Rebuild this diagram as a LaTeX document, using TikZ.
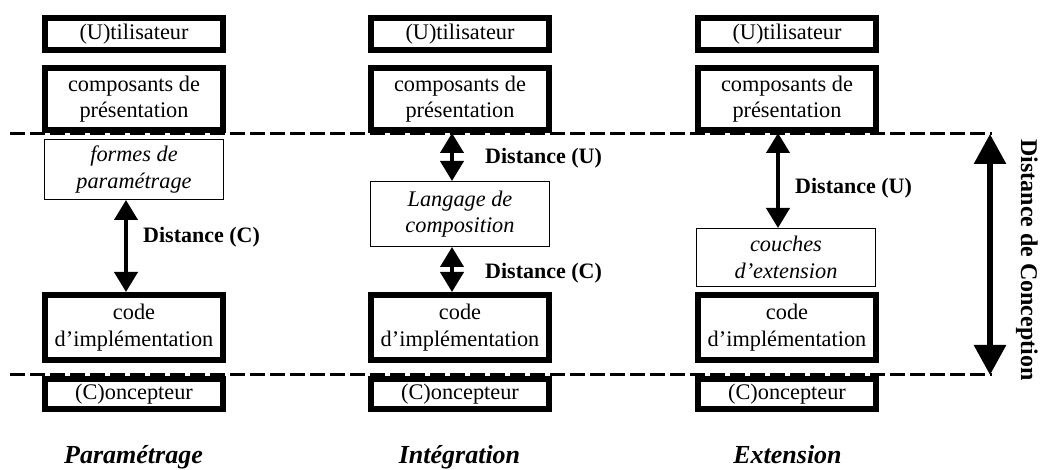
\documentclass[tikz,border=0pt]{standalone}
\usepackage{fontspec}
\setmainfont{Liberation Serif}
\usetikzlibrary{arrows.meta}
\tikzset{
  thickbox/.style={draw, fill=white, line width=6pt, minimum width=178pt, inner sep=0pt, align=center,
    font=\fontsize{22.3}{26.5}\selectfont},
  thinbox/.style={draw, fill=white, line width=1.3pt, minimum width=178.7pt, inner sep=0pt, align=center,
    font=\fontsize{22.3}{26.5}\selectfont\itshape},
  sepline/.style={line width=3pt, dash pattern=on 15pt off 5pt},
  smallarrow/.style={line width=4pt, {Triangle[width=23pt,length=20pt]}-{Triangle[width=23pt,length=20pt]}},
  bigarrow/.style={line width=6pt, {Triangle[width=31pt,length=30pt]}-{Triangle[width=31pt,length=30pt]}},
  distlabel/.style={anchor=west, inner sep=0pt, font=\fontsize{22}{26}\selectfont\bfseries},
  titlelabel/.style={anchor=base, inner sep=0pt, font=\fontsize{26}{30}\selectfont\bfseries\itshape}
}
\begin{document}
\begin{tikzpicture}[x=1pt,y=-1pt]
\useasboundingbox (0,0) rectangle (1042,470);
% separation lines
\coordinate (sTL) at (10,134);
\coordinate (sTR) at (992,134);
\coordinate (sBL) at (10,375);
\coordinate (sBR) at (992,375);
\draw[sepline] (sTL) -- (sTR);
\draw[sepline] (sBL) -- (sBR);

% Left column : Parametrage
\node[thickbox, minimum height=32pt] (uL) at (134,34) {(U)tilisateur};
\node[thickbox, minimum height=62pt] (pL) at (134,99) {composants de\\présentation};
\node[thinbox, minimum height=59.7pt] (fL) at (134,169.5) {formes de\\paramétrage};
\node[thickbox, minimum height=65pt] (cL) at (134,327.5) {code\\d’implémentation};
\node[thickbox, minimum height=30pt] (kL) at (134,394) {(C)oncepteur};

% Middle column : Integration
\node[thickbox, minimum height=32pt] (uM) at (460,34) {(U)tilisateur};
\node[thickbox, minimum height=62pt] (pM) at (460,99) {composants de\\présentation};
\node[thinbox, minimum height=64.7pt] (lM) at (460,214) {Langage de\\composition};
\node[thickbox, minimum height=65pt] (cM) at (460,327.5) {code\\d’implémentation};
\node[thickbox, minimum height=30pt] (kM) at (460,394) {(C)oncepteur};

% Right column : Extension
\node[thickbox, minimum height=32pt] (uR) at (787,34) {(U)tilisateur};
\node[thickbox, minimum height=62pt] (pR) at (787,99) {composants de\\présentation};
\node[thinbox, minimum height=57.7pt] (eR) at (786,257.5) {couches\\d’extension};
\node[thickbox, minimum height=65pt] (cR) at (787,327.5) {code\\d’implémentation};
\node[thickbox, minimum height=30pt] (kR) at (787,394) {(C)oncepteur};

% arrows
\draw[smallarrow] ([xshift=-8pt]fL.south) -- ([xshift=-8pt]cL.north);
\draw[smallarrow] ([xshift=-8pt]pM.south) -- ([xshift=-8pt]lM.north);
\draw[smallarrow] ([xshift=-8pt]lM.south) -- ([xshift=-8pt]cM.north);
\draw[smallarrow] ([xshift=-9pt]pR.south) -- ([xshift=-8pt]eR.north);
\coordinate (bT) at (990,134);
\coordinate (bB) at (990,375);
\draw[bigarrow] (bT) -- (bB);

% labels
\node[distlabel] (dL) at (143,237) {Distance (C)};
\node[distlabel] (dMU) at (485,158) {Distance (U)};
\node[distlabel] (dMC) at (485,273) {Distance (C)};
\node[distlabel] (dRU) at (795,188) {Distance (U)};
\node[rotate=-90, inner sep=0pt, font=\fontsize{24}{28}\selectfont\bfseries] (dC) at (1027,260) {Distance de Conception};

\node[titlelabel] (tL) at (133.5,463) {Paramétrage};
\node[titlelabel] (tM) at (459.5,463) {Intégration};
\node[titlelabel] (tR) at (787.5,463) {Extension};
\end{tikzpicture}
\end{document}
